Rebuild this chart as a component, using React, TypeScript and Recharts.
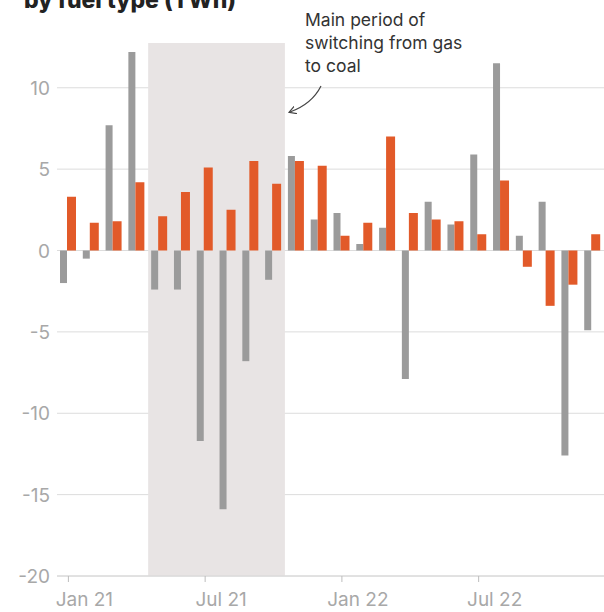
import React from "react";
import {
  BarChart,
  Bar,
  XAxis,
  YAxis,
  CartesianGrid,
  ReferenceArea,
} from "recharts";

const months = [
  "Jan 21", "Feb 21", "Mar 21", "Apr 21", "May 21", "Jun 21",
  "Jul 21", "Aug 21", "Sep 21", "Oct 21", "Nov 21", "Dec 21",
  "Jan 22", "Feb 22", "Mar 22", "Apr 22", "May 22", "Jun 22",
  "Jul 22", "Aug 22", "Sep 22", "Oct 22", "Nov 22", "Dec 22",
];

const gasValues = [
  -2.0, -0.5, 7.7, 12.2, -2.4, -2.4, -11.7, -15.9, -6.8, -1.8, 5.8, 1.9,
  2.3, 0.4, 1.4, -7.9, 3.0, 1.6, 5.9, 11.5, 0.9, 3.0, -12.6, -4.9,
];

const coalValues = [
  3.3, 1.7, 1.8, 4.2, 2.1, 3.6, 5.1, 2.5, 5.5, 4.1, 5.5, 5.2,
  0.9, 1.7, 7.0, 2.3, 1.9, 1.8, 1.0, 4.3, -1.0, -3.4, -2.1, 1.0,
];

const yTicks = [-20, -15, -10, -5, 0, 5, 10];

const data = months.map((month, i) => ({
  month,
  gas: gasValues[i],
  coal: coalValues[i],
}));

const FONT = "Inter, 'Noto Sans', sans-serif";
const TICK_COLOR = "#a8a8a8";

function XTick({ x, y, payload }: any) {
  return (
    <text
      x={x + 16}
      y={y + 22}
      textAnchor="middle"
      fill={TICK_COLOR}
      fontSize={19}
      fontFamily={FONT}
    >
      {payload.value}
    </text>
  );
}

function YTick({ y, payload }: any) {
  return (
    <text
      x={50}
      y={y}
      dy={7}
      textAnchor="end"
      fill={TICK_COLOR}
      fontSize={19}
      fontFamily={FONT}
    >
      {payload.value}
    </text>
  );
}

export default function App() {
  return (
    <div style={{ position: "absolute", left: 0, top: 0, width: 604, height: 612, background: "#fff" }}>
      <BarChart
        width={604}
        height={612}
        data={data}
        margin={{ top: 43, right: 0, bottom: 0, left: 0 }}
        barGap={0}
      >
        <ReferenceArea
          x1="May 21"
          x2="Oct 21"
          fill="#e8e4e4"
          fillOpacity={1}
          stroke="none"
        />
        <CartesianGrid
          vertical={false}
          stroke="#dcdcdc"
          horizontalValues={yTicks}
          syncWithTicks
        />
        <XAxis
          dataKey="month"
          interval={5}
          height={36}
          axisLine={{ stroke: "#d6d6d6" }}
          tickLine={{ stroke: "#bdbdbd" }}
          tickSize={6}
          tick={<XTick />}
        />
        <YAxis
          type="number"
          domain={[-20, 12.75]}
          ticks={yTicks}
          width={57}
          axisLine={false}
          tickLine={false}
          tick={<YTick />}
          allowDataOverflow
        />
        <Bar dataKey="gas" fill="#9b9b9b" barSize={7} isAnimationActive={false} />
        <Bar dataKey="coal" fill="#e25a29" barSize={9} isAnimationActive={false} />
      </BarChart>
      <svg
        width={604}
        height={612}
        style={{ position: "absolute", left: 0, top: 0, pointerEvents: "none" }}
      >
        <defs>
          <marker
            id="arrowhead"
            markerWidth="8"
            markerHeight="8"
            refX="6"
            refY="4"
            orient="auto"
            markerUnits="userSpaceOnUse"
          >
            <path d="M0,0 L7,4 L0,8" fill="none" stroke="#444" strokeWidth={1.2} />
          </marker>
        </defs>
        <text x={24} y={8} fontSize={23} fontWeight={800} fill="#222" fontFamily={FONT}>
          by fuel type (TWh)
        </text>
        <g fontSize={17.5} fill="#333" fontFamily={FONT}>
          <text x={305} y={26}>Main period of</text>
          <text x={305} y={49}>switching from gas</text>
          <text x={305} y={72}>to coal</text>
        </g>
        <path
          d="M 321 86 Q 312 104 290 112"
          fill="none"
          stroke="#444"
          strokeWidth={1.2}
          markerEnd="url(#arrowhead)"
        />
      </svg>
    </div>
  );
}
